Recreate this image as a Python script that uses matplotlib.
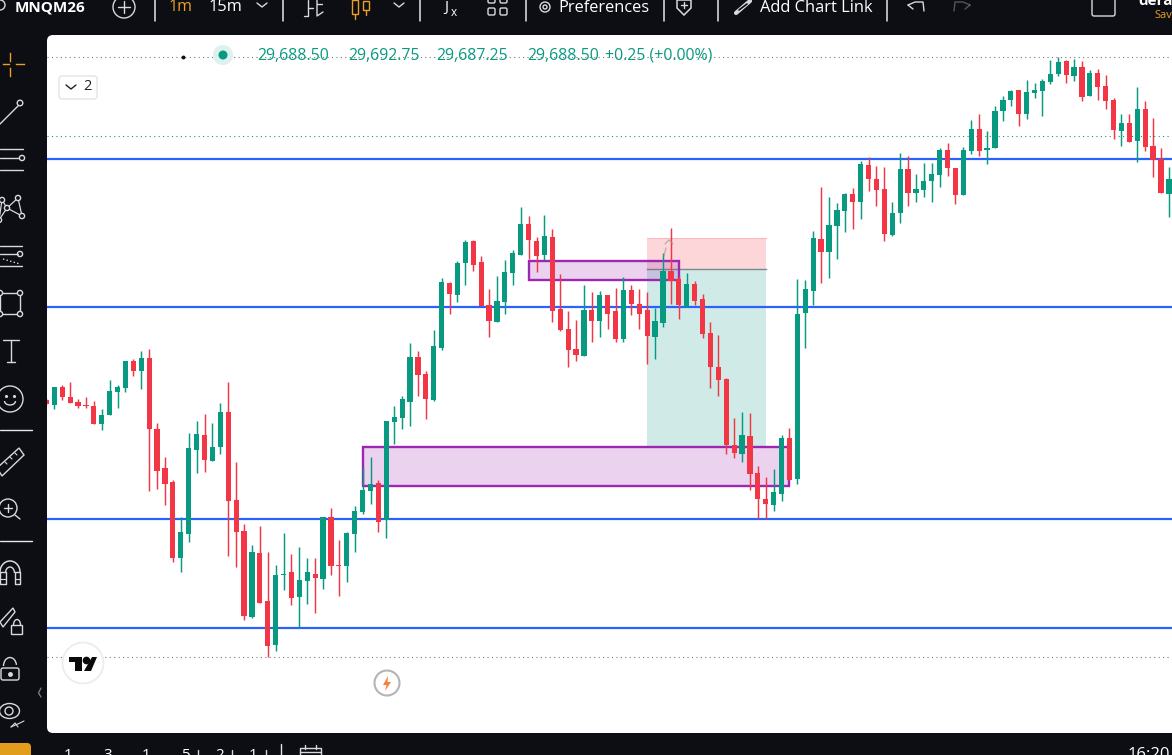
import matplotlib
matplotlib.use("Agg")
import matplotlib.pyplot as plt
from matplotlib.patches import Circle, Ellipse, FancyBboxPatch, Polygon, Rectangle, Arc
import numpy as np

W, H = 1172, 755
BASE = 29000.0

# Prices, as points above BASE
opens = [425,420,438,428,423,420,419,401,410,433,437,464,454,467,396,357,343,267,291,375,
         390,364,378,413,325,294,208,272,224,180,250,253,228,244,251,246,308,260,259,291,
         313,334,342,305,403,407,423,468,451,425,477,542,530,562,584,563,520,503,523,552,
         570,601,584,570,588,516,496,476,469,515,504,530,514,486,535,521,515,488,502,554,
         546,518,541,526,492,458,446,380,371,389,352,326,320,331,387,346,512,534,586,573,
         599,614,631,623,660,646,636,590,612,656,632,635,644,650,675,657,630,674,696,675,
         677,714,725,735,711,732,734,743,751,764,749,758,729,752,739,725,694,702,684,716,
         679,666,631]
highs = [427,438,440,443,426,428,424,416,445,440,464,466,474,476,402,368,345,308,392,404,
         411,402,422,443,363,301,280,299,273,260,292,271,278,267,267,308,317,285,293,319,
         358,368,345,404,419,429,482,474,454,495,547,543,564,585,585,569,536,549,565,575,
         618,609,588,610,596,551,514,505,540,533,534,530,537,548,540,536,533,517,572,597,
         549,552,544,531,503,490,447,407,413,412,359,348,356,390,397,546,545,594,638,628,
         622,632,637,664,668,659,658,623,672,669,651,662,662,677,682,657,678,705,711,694,
         719,729,735,735,745,742,746,765,768,765,766,764,755,756,750,727,711,711,738,724,
         707,677,658]
lows = [420,416,425,422,417,417,401,395,410,417,433,449,436,334,336,320,263,253,283,352,
        353,364,371,269,258,205,207,222,168,174,235,220,197,221,212,236,250,229,243,273,
        311,321,293,287,381,396,399,429,406,424,475,511,523,540,554,519,488,503,511,540,
        570,566,553,565,503,494,458,464,469,483,488,496,483,483,510,496,461,466,498,521,
        506,518,520,487,437,429,371,367,363,335,306,306,314,324,345,341,477,520,542,547,
        566,593,596,606,634,619,584,589,602,619,623,628,623,638,649,621,630,671,669,661,
        677,704,719,699,706,727,709,741,749,742,744,724,729,725,716,686,679,683,663,674,
        648,632,608]
closes = [421,438,428,422,419,419,401,410,434,438,464,454,467,396,354,341,267,293,377,391,
          365,378,413,324,293,209,273,222,179,250,251,227,245,253,247,308,259,259,292,314,
          335,341,303,404,408,426,468,450,426,479,543,531,562,583,560,519,504,524,553,572,
          601,585,569,589,514,495,475,470,515,504,530,511,486,535,521,511,489,504,554,544,
          520,541,524,491,458,445,380,372,390,351,326,321,333,387,345,511,536,587,573,600,
          615,631,623,661,646,635,591,612,656,632,636,644,651,675,657,630,675,696,674,677,
          714,725,734,711,733,735,744,751,763,750,758,728,752,738,724,695,702,683,716,678,
          665,632,646]

# Horizontal levels and dotted price lines
level_prices = [666, 518, 306, 197]
dotted_grey_prices = [768, 168]
last_price = 688.5

# Drawings: (first bar, last bar, top price, bottom price)
zone_large = (40, 94, 378, 339)
zone_small = (61, 80, 564, 545)
position_bars = (76, 91)
position_stop, position_entry, position_target = 587, 556, 378

legend_values = ["29,688.50", "29,692.75", "29,687.25", "29,688.50", "+0.25 (+0.00%)"]

UP, DOWN = "#089981", "#F23645"
BLUE, PURPLE = "#2962FF", "#9C27B0"
DARK = "#0D0E13"
ORANGE = "#E9A023"
ICON = "#D8D9DC"
FONT = ["Open Sans", "DejaVu Sans"]

fig = plt.figure(figsize=(W / 100, H / 100), dpi=100, facecolor=DARK)

# ---- background
bg = fig.add_axes([0, 0, 1, 1], zorder=0)
bg.set_xlim(0, W); bg.set_ylim(H, 0); bg.axis("off")
bg.add_patch(Rectangle((0, 0), W, H, fc=DARK, ec="none"))
bg.add_patch(FancyBboxPatch((53, 41), W, 686, boxstyle="round,pad=6,rounding_size=6", fc="white", ec="none"))

# ---- price chart: 1 point = 1 pixel, one bar = 7.905 pixels
left, right, top, bottom = 47, 1172, 35, 733
ax = fig.add_axes([left / W, 1 - bottom / H, (right - left) / W, (bottom - top) / H], zorder=1)
ax.patch.set_alpha(0); ax.axis("off")
ax.set_xlim((left - 46.4) / 7.905, (right - 46.4) / 7.905)
ax.set_ylim(BASE + 92, BASE + 790)

o, h, l, c = [BASE + np.array(a, float) for a in (opens, highs, lows, closes)]
x = np.arange(len(o))
colors = [UP if cc >= oo else DOWN for oo, cc in zip(o, c)]

# position tool
pl, pr = position_bars
ax.fill_between([pl, pr], BASE + position_entry, BASE + position_stop, color="#F23645", alpha=0.2, lw=0, zorder=1)
ax.fill_between([pl, pr], BASE + position_target, BASE + position_entry, color="#089981", alpha=0.19, lw=0, zorder=1)
ax.plot([pl, pr], [BASE + position_entry] * 2, color="#7d8a8a", lw=1.0, zorder=1.2)
ax.plot([pl, pr], [BASE + position_stop] * 2, color="#F9B9BF", lw=0.8, zorder=1.2)

# levels
for p in level_prices:
    ax.axhline(BASE + p, color=BLUE, lw=1.6, zorder=2)
for p in dotted_grey_prices:
    ax.axhline(BASE + p, color="#777777", lw=0.8, ls=(0, (1, 3)), zorder=1.5)
ax.axhline(BASE + last_price, color=UP, lw=0.8, ls=(0, (1, 3)), zorder=1.5)

# zones
for (a, b, t, u) in (zone_large, zone_small):
    ax.add_patch(Rectangle((a, BASE + u), b - a, t - u, fc=PURPLE, alpha=0.2, ec="none", zorder=2.2))
    ax.add_patch(Rectangle((a, BASE + u), b - a, t - u, fc="none", ec=PURPLE, lw=1.7, zorder=2.3))

# candles
ax.vlines(x, l, h, colors=colors, lw=1.05, zorder=3)
ax.bar(x, np.maximum(np.abs(c - o), 1), bottom=np.minimum(o, c), width=0.66, color=colors, lw=0, zorder=4)

# ---- everything around the chart
ui = fig.add_axes([0, 0, 1, 1], zorder=2)
ui.patch.set_alpha(0); ui.set_xlim(0, W); ui.set_ylim(H, 0); ui.axis("off")


def line(xs, ys, color=ICON, lw=1.0, **kw):
    kw.setdefault("solid_capstyle", "round")
    ui.plot(xs, ys, color=color, lw=lw, **kw)


def ring(cx, cy, r, color=ICON, lw=1.0, fc="none", z=3):
    ui.add_patch(Circle((cx, cy), r, fc=fc, ec=color, lw=lw, zorder=z))


def txt(px, py, s, color="white", size=10.5, weight="normal", ha="left", va="center", family=None):
    ui.text(px, py, s, color=color, fontsize=size, fontweight=weight, ha=ha, va=va, family=family or FONT)


# top bar
ring(0, 5, 5)
txt(15, 7, "MNQM26", size=11, weight="bold")
ring(124, 7, 11); line([118, 130], [7, 7]); line([124, 124], [1, 13])
for sx in (155, 283, 420, 526, 664, 718, 887):
    line([sx, sx], [0, 21], color="#E8E3EA", lw=1.1)
txt(169, 7, "1m", color=ORANGE, size=11.5, weight=500)
txt(208, 7, "15m", size=11.8, weight=500)
for cx in (262, 399):
    line([cx - 5, cx, cx + 5], [3, 7, 3], lw=1.0)
line([308, 308, 304], [0, 16, 16]); line([317, 317, 323], [0, 16, 12]); line([308, 313], [8, 8]); line([317, 322], [4, 4])
for cx, t0, t1 in ((355, 0, 14), (366, 1, 10)):
    ui.add_patch(Rectangle((cx - 3, t0), 6, t1 - t0, fc="none", ec=ORANGE, lw=1.0))
    line([cx, cx], [t1, t1 + 5], color=ORANGE)
txt(444, 8, "J", size=11); txt(451, 12, "x", size=8.5)
for gx in (488, 500):
    for gy in (-4, 8):
        ui.add_patch(FancyBboxPatch((gx, gy), 7, 7, boxstyle="round,pad=0,rounding_size=1.5", fc="none", ec=ICON, lw=1.0))
ring(545, 7, 5); ring(545, 7, 2)
txt(558, 7.5, "Preferences", size=11.8, weight=500)
ui.add_patch(Polygon([[677, 0], [691, 0], [691, 8], [684, 15], [677, 8]], closed=True, fc="none", ec=ICON, lw=1.1))
line([684, 684], [2, 8], lw=1.0); line([681, 687], [5, 5], lw=1.0)
line([736, 750], [13, 1], color=ICON, lw=3.0); line([739, 747], [10, 4], color=DARK, lw=1.2)
txt(760, 7.5, "Add Chart Link", size=11.9, weight=500)
line([908, 915, 923, 924], [5, 2, 2, 11], lw=1); line([908, 913], [5, 9], lw=1)
line([970, 963, 955, 954], [5, 2, 2, 11], lw=1, alpha=0.35); line([970, 965], [5, 9], lw=1, alpha=0.35)
ui.add_patch(FancyBboxPatch((1092, -5), 23, 21, boxstyle="round,pad=0,rounding_size=2", fc="none", ec=ICON, lw=1))
txt(1138, 1, "dera", size=11, weight="bold")
txt(1154, 15, "Sav", color=ORANGE, size=8)

# left toolbar
ui.plot([3, 9], [64, 64], color=ORANGE, lw=1); ui.plot([16, 24], [64, 64], color=ORANGE, lw=1)
ui.plot([10, 10], [53, 61], color=ORANGE, lw=1); ui.plot([10, 10], [68, 76], color=ORANGE, lw=1)
line([0, 18], [124, 106]); ring(20, 103, 2.8)
for ly, xe in ((149, 23), (158, 19), (170, 23)):
    line([0, xe], [ly, ly])
ring(22, 158, 2.6)
nodes = [(2, 200), (18, 198), (22, 216), (7, 208), (-1, 220)]
for a, b in ((0, 3), (3, 1), (1, 2), (3, 2), (3, 4), (0, 4)):
    line([nodes[a][0], nodes[b][0]], [nodes[a][1], nodes[b][1]], lw=0.9)
for n in nodes:
    ring(n[0], n[1], 2.6, fc=DARK)
line([0, 22], [246, 246]); line([0, 18], [254, 254]); ring(20, 254, 2.6)
line([0, 22], [266, 266]); line([3, 20], [259, 264], ls=":")
ui.add_patch(Rectangle((0, 293), 20, 21, fc="none", ec=ICON, lw=1))
for cx, cy in ((0, 293), (20, 293), (0, 314), (20, 314)):
    ring(cx, cy, 2.6, fc=DARK)
line([3, 19], [340, 340]); line([11, 11], [340, 362]); line([7, 15], [362, 362])
ring(10, 399, 13); ui.plot([6, 14], [396, 396], ls="none", marker=".", ms=2.5, color=ICON)
ui.add_patch(Arc((10, 401), 11, 8, theta1=0, theta2=180, ec=ICON, lw=1))
line([0, 32], [430, 430], color="#E8E8E8", lw=1)
ui.add_patch(Polygon([[-3, 468], [19, 448], [24, 455], [2, 476]], closed=True, fc="none", ec=ICON, lw=1))
for a, b in ((5, 462), (10, 457), (15, 453)):
    line([a, a + 2], [b, b + 2], lw=0.8)
ring(8, 508, 9); line([4, 12], [508, 508]); line([8, 8], [504, 512]); line([15, 20], [515, 519])
line([0, 32], [541, 541], color="#E8E8E8", lw=1)
# magnet
ui.add_patch(Arc((10, 572), 20, 22, theta1=180, theta2=360, ec=ICON, lw=1.1))
ui.add_patch(Arc((10, 573), 9, 12, theta1=180, theta2=360, ec=ICON, lw=1))
line([0, 5.5, 5.5, 0, 0], [572, 572, 584, 584, 572]); line([14.5, 20, 20, 14.5, 14.5], [572, 572, 584, 584, 572])
line([0, 5.5], [579, 579], lw=0.8); line([14.5, 20], [579, 579], lw=0.8)
# pencil + small lock
ui.add_patch(Polygon([[0, 622], [13, 608], [15, 612], [3, 627]], closed=True, fc="none", ec=ICON, lw=1))
ui.add_patch(Rectangle((11, 625), 11, 9, fc="none", ec=ICON, lw=1)); ui.add_patch(Arc((17, 625), 7, 11, theta1=180, theta2=360, ec=ICON, lw=1))
# lock
ui.add_patch(FancyBboxPatch((1, 668), 18, 12, boxstyle="round,pad=0,rounding_size=2", fc="none", ec=ICON, lw=1))
ui.add_patch(Arc((10, 666), 13, 17, theta1=180, theta2=350, ec=ICON, lw=1))
ui.plot([10], [674], marker="o", ms=2.5, color=ICON)
line([41, 38.5, 41], [688, 693, 697], color="#808388", lw=0.9)
# eye
ui.add_patch(Ellipse((9.5, 711), 20, 15, fc="none", ec=ICON, lw=1))
ring(9, 711, 4)
line([11, 20, 24], [727, 723, 721], lw=0.8); line([11, 15, 18], [727, 723, 727], lw=0.8)

# bottom bar
ui.add_patch(FancyBboxPatch((-6, 743), 37, 20, boxstyle="round,pad=0,rounding_size=4", fc="#E29D1C", ec="none"))
for bx, s in ((68, "1"), (108, "3"), (146, "1"), (185, "5"), (220, "2"), (253, "1")):
    txt(bx, 748, s, size=11, va="top", ha="center")
for bx in (198, 232, 266):
    line([bx, bx], [750, 756], lw=1)
line([281, 281], [744, 755], color="#E8E3EA", lw=1)
ui.add_patch(Rectangle((300, 748), 21, 12, fc="none", ec=ICON, lw=1))
line([305, 305], [745, 749]); line([316, 316], [745, 749]); line([300, 321], [752, 752])
txt(1128, 747, "16:20", size=12, va="top", ha="left")

# legend on the chart
ring(223, 55, 10, color="#DDF1EE", fc="#DDF1EE", lw=0)
ring(223, 55, 4.5, color=UP, fc=UP, lw=0)
ui.plot([183], [57], marker="o", ms=1.8, color="#111111")
for lx, s in zip((257, 348, 436, 527, 605), legend_values):
    txt(lx, 56, s, color=UP, size=11.4, family=["Open Sans", "DejaVu Sans"])
ui.add_patch(FancyBboxPatch((59, 76), 38, 23, boxstyle="round,pad=0,rounding_size=3", fc="white", ec="#E0E3EB", lw=1))
line([66, 71, 76], [85, 89, 85], color="#222222", lw=1)
txt(83, 87, "2", color="#222222", size=10.5)

# logo and flash
ring(83, 663, 20.5, color="#ECECEC", fc="white", lw=1.3)
ui.add_patch(Polygon([[69, 657], [82, 657], [82, 671], [75, 671], [75, 662], [69, 662]], closed=True, fc="#0a0a0a", ec="none", zorder=4))
ui.plot([86], [660], marker="o", ms=4.5, color="#0a0a0a", zorder=4)
ui.add_patch(Polygon([[92, 657], [97, 657], [91, 671], [84, 671]], closed=True, fc="#0a0a0a", ec="none", zorder=4))
ring(387, 683, 12.5, color="#B4B4B4", fc="white", lw=1.5)
ui.add_patch(Polygon([[388, 676], [383, 685], [386.5, 685], [385, 691], [391, 682], [387.5, 682]], closed=True, fc="#F7813A", ec="none", zorder=4))

# faint arrow of the position tool
line([664, 666], [256, 248], color="#9a9a9a", lw=0.9, alpha=0.7)
line([665, 669, 673], [244, 240, 244], color="#9a9a9a", lw=0.9, alpha=0.7)

fig.savefig("out.png", dpi=100, facecolor=DARK)
